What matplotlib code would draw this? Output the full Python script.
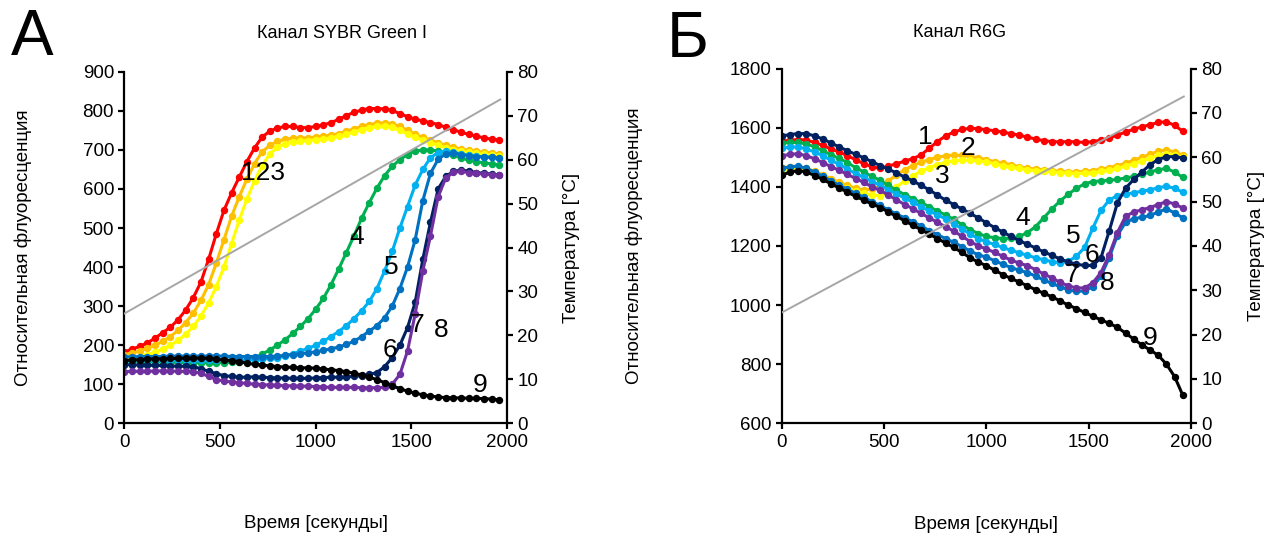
import matplotlib
matplotlib.use('Agg')
import matplotlib.pyplot as plt

plt.rcParams['font.family'] = ['Liberation Sans', 'DejaVu Sans']

# ---------------- data ----------------
time_s = list(range(0, 1961, 40))

temp_time = [0, 1965]
temp_c = [25.0, 73.7]

sybr_1 = [183,190,197,206,218,232,246,265,290,322, 362,420,485,545,590,630,670,705,733,748,
          756,760,760,757,757,760,764,770,778,788, 796,802,806,806,805,801,793,785,779,774,
          770,765,758,752,745,740,735,731,727,726]
sybr_2 = [176,180,185,192,200,210,222,238,258,282, 315,355,410,470,530,580,625,665,695,712,
          722,728,730,730,731,733,735,738,742,748, 754,760,765,768,769,767,760,750,740,732,
          725,718,712,707,702,699,696,694,692,690]
sybr_3 = [166,168,171,176,182,190,200,212,228,248, 275,308,350,400,460,520,575,620,660,690,
          707,716,720,722,724,726,728,731,735,740, 746,752,757,760,761,758,750,741,732,725,
          718,712,706,701,697,694,691,689,687,685]
sybr_4 = [160,159,158,158,157,157,156,156,155,155, 155,155,155,155,156,158,162,168,177,188,
          200,214,230,248,268,292,320,355,395,437, 480,525,565,602,634,658,675,688,697,700,
          700,697,692,686,679,674,670,667,664,662]
sybr_5 = [160,160,161,161,161,162,162,162,162,162, 163,163,163,163,162,162,162,163,164,166,
          168,172,178,185,192,200,210,222,235,250, 268,288,312,345,390,440,500,555,610,650,
          680,693,697,694,690,686,684,682,681,680]
sybr_6 = [150,150,149,149,148,148,147,146,146,145, 140,133,127,122,120,118,118,119,118,117,
          116,116,115,115,115,116,117,118,118,119, 120,122,125,130,145,168,200,245,310,420,
          515,600,632,645,648,646,642,640,638,636]
sybr_7 = [170,170,171,171,171,171,172,172,172,172, 172,172,172,172,171,171,171,171,171,171,
          172,174,176,178,180,183,187,191,195,202, 210,222,236,250,270,300,345,400,470,570,
          640,676,690,692,688,685,683,682,681,680]
sybr_8 = [132,133,133,133,134,134,134,133,133,132, 128,120,112,108,106,104,102,100,99,98,
          97,96,96,95,95,94,93,92,92,92, 92,91,91,91,92,100,125,185,280,390,
          480,580,628,643,645,642,640,638,637,636]
sybr_9 = [160,162,163,164,165,165,166,166,167,167, 167,166,164,162,160,158,154,151,149,147,
          145,144,143,142,142,141,139,137,135,132, 128,124,118,112,104,96,89,82,77,73,
          70,67,66,65,65,64,64,63,62,60]

r6g_1 = [1555,1557,1560,1558,1550,1540,1528,1518,1505,1492, 1478,1468,1462,1470,1478,1487,1495,1508,1530,1553,
         1572,1585,1594,1598,1597,1593,1590,1585,1580,1575, 1568,1562,1556,1553,1552,1553,1552,1550,1553,1558,
         1565,1575,1585,1595,1603,1610,1618,1620,1608,1588]
r6g_2 = [1465,1468,1468,1463,1452,1440,1428,1415,1405,1395, 1390,1392,1402,1420,1440,1458,1472,1483,1492,1500,
         1505,1507,1506,1503,1498,1492,1485,1480,1475,1468, 1463,1460,1458,1455,1452,1450,1450,1452,1455,1460,
         1465,1472,1480,1490,1500,1510,1520,1525,1518,1507]
r6g_3 = [1455,1458,1458,1452,1442,1430,1418,1405,1395,1385, 1378,1372,1370,1380,1400,1420,1438,1452,1465,1475,
         1483,1488,1490,1490,1488,1484,1478,1472,1467,1462, 1458,1455,1452,1450,1448,1446,1445,1446,1448,1452,
         1456,1462,1470,1478,1488,1497,1506,1512,1508,1500]
r6g_4 = [1548,1550,1550,1545,1535,1522,1508,1496,1482,1465, 1450,1435,1422,1405,1388,1374,1360,1347,1333,1318,
         1305,1290,1272,1255,1242,1232,1228,1225,1226,1232, 1245,1265,1295,1325,1352,1375,1395,1410,1418,1420,
         1422,1425,1430,1435,1442,1450,1458,1462,1450,1432]
r6g_5 = [1530,1535,1535,1528,1518,1505,1490,1476,1460,1445, 1432,1418,1405,1390,1376,1362,1348,1333,1318,1305,
         1292,1275,1258,1240,1225,1214,1205,1195,1185,1177, 1168,1160,1153,1147,1143,1148,1165,1195,1260,1320,
         1355,1370,1375,1380,1385,1390,1397,1402,1395,1382]
r6g_6 = [1572,1577,1580,1580,1572,1562,1548,1535,1522,1510, 1498,1485,1472,1460,1447,1433,1420,1405,1390,1372,
         1355,1340,1325,1310,1295,1278,1262,1247,1232,1218, 1206,1193,1180,1168,1156,1146,1138,1134,1134,1160,
         1250,1345,1395,1425,1450,1475,1492,1502,1502,1498]
r6g_7 = [1462,1468,1470,1462,1450,1435,1420,1405,1392,1378, 1365,1350,1337,1322,1308,1295,1282,1268,1252,1238,
         1225,1212,1198,1183,1170,1162,1150,1138,1127,1118, 1110,1098,1085,1073,1062,1052,1046,1048,1062,1098,
         1160,1235,1280,1292,1297,1303,1315,1325,1312,1295]
r6g_8 = [1505,1510,1512,1505,1495,1482,1468,1456,1442,1428, 1415,1400,1388,1372,1356,1340,1326,1310,1295,1280,
         1265,1250,1233,1215,1200,1190,1178,1165,1152,1142, 1133,1120,1105,1092,1077,1065,1058,1058,1075,1110,
         1170,1245,1300,1315,1322,1330,1340,1350,1342,1328]
r6g_9 = [1440,1450,1455,1450,1438,1425,1410,1396,1382,1368, 1355,1342,1330,1315,1300,1285,1270,1255,1240,1225,
         1210,1195,1178,1160,1145,1133,1118,1103,1090,1078, 1065,1052,1040,1028,1014,1000,988,975,962,950,
         938,925,905,885,865,848,830,800,758,695]

series_colors = ['#FF0000', '#FFC000', '#FFFF00', '#00B050', '#00B0F0',
                 '#002060', '#0070C0', '#7030A0', '#000000']

sybr_labels = ['123', '4', '5', '6', '7', '8', '9']
sybr_label_t = [724, 1215, 1397, 1387, 1528, 1654, 1858]
sybr_label_v = [641, 477, 400, 188, 251, 238, 98]

r6g_labels = ['1', '2', '3', '4', '5', '6', '7', '8', '9']
r6g_label_t = [699, 910, 782, 1178, 1423, 1516, 1418, 1589, 1800]
r6g_label_v = [1570, 1533, 1435, 1296, 1232, 1171, 1103, 1075, 889]

# ---------------- figure ----------------
fig = plt.figure(figsize=(12.69, 5.35), dpi=100)
axL = fig.add_axes([0.0981, 0.2088, 0.3014, 0.657])
axR = fig.add_axes([0.6162, 0.2088, 0.3223, 0.663])

TICK_FS = 13.5
LABEL_FS = 13.5


def setup(ax, series, ylim, yticks, ylabel_x, temp_label_x, title, title_x, title_y,
          lab, lab_t, lab_v, letter, letter_xy):
    for vals, col in zip(series, series_colors):
        ax.plot(time_s, vals, color=col, lw=2.2, marker='o', ms=4.3,
                mfc=col, mec=col, zorder=2)
    ax.set_xlim(0, 2000)
    ax.set_xticks([0, 500, 1000, 1500, 2000])
    ax.set_ylim(*ylim)
    ax.set_yticks(yticks)
    for s in ['top', 'right']:
        ax.spines[s].set_visible(False)
    for s in ['left', 'bottom']:
        ax.spines[s].set_linewidth(1.6)
    ax.tick_params(direction='out', length=4, width=1.6, labelsize=TICK_FS)
    ax.set_xlabel('Время [секунды]', fontsize=LABEL_FS)
    ax.xaxis.set_label_coords(0.5, -0.262)
    ax.set_ylabel('Относительная флуоресценция', fontsize=LABEL_FS, va='center')
    ax.yaxis.set_label_coords(ylabel_x, 0.5)
    ax.set_title(title, fontsize=13, x=title_x, y=title_y, va='center', pad=0)
    for s, t, v in zip(lab, lab_t, lab_v):
        ax.text(t, v, s, fontsize=19, ha='center', va='center', zorder=5)

    ax2 = ax.twinx()
    ax2.plot(temp_time, temp_c, color='#A6A6A6', lw=1.4, zorder=3)
    ax2.set_ylim(0, 80)
    ax2.set_yticks(range(0, 81, 10))
    for s in ['top', 'left', 'bottom']:
        ax2.spines[s].set_visible(False)
    ax2.spines['right'].set_linewidth(1.6)
    ax2.tick_params(direction='out', length=4, width=1.6, labelsize=TICK_FS)
    ax2.set_ylabel('Температура [°C]', fontsize=LABEL_FS, va='center')
    ax2.yaxis.set_label_coords(temp_label_x, 0.5)
    fig.text(letter_xy[0], letter_xy[1], letter, fontsize=46, ha='center', va='center')
    return ax2


setup(axL, [sybr_1, sybr_2, sybr_3, sybr_4, sybr_5, sybr_6, sybr_7, sybr_8, sybr_9],
      (0, 900), range(0, 901, 100), -0.265, 1.17,
      'Канал SYBR Green I', 0.569, 1.11,
      sybr_labels, sybr_label_t, sybr_label_v, 'А', (32 / 1269, 1 - 38 / 535))

setup(axR, [r6g_1, r6g_2, r6g_3, r6g_4, r6g_5, r6g_6, r6g_7, r6g_8, r6g_9],
      (600, 1800), range(600, 1801, 200), -0.362, 1.161,
      'Канал R6G', 0.434, 1.103,
      r6g_labels, r6g_label_t, r6g_label_v, 'Б', (688 / 1269, 1 - 40 / 535))

fig.savefig('out.png', dpi=100)
